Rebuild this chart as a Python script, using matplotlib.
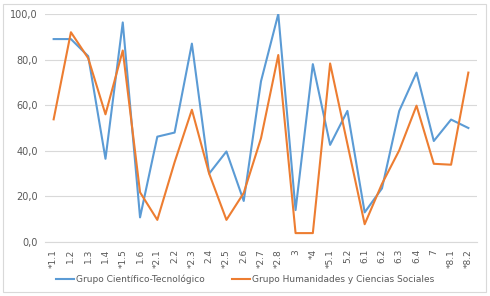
import numpy as np
import matplotlib
matplotlib.use("Agg")
import matplotlib.pyplot as plt
from matplotlib.patches import Rectangle

# Datos
categorias = ["*1.1", "1.2", "1.3", "1.4", "*1.5", "1.6", "*2.1", "2.2", "*2.3", "2.4",
              "*2.5", "2.6", "*2.7", "*2.8", "3", "*4", "*5.1", "5.2", "6.1", "6.2",
              "6.3", "6.4", "7", "*8.1", "*8.2"]
cientifico = [89, 89, 81.5, 36.5, 96.3, 10.8, 46.2, 48, 87, 30,
              39.7, 18, 70.5, 100, 14, 78, 42.6, 57.5, 13, 23.5,
              57.5, 74.3, 44.3, 53.7, 50]
humanidades = [53.8, 92, 80.6, 56, 84, 21.8, 9.7, 35, 58, 30,
               9.7, 21.5, 45.5, 82, 3.9, 3.9, 78.3, 43, 7.8, 25.5,
               40.2, 59.8, 34.3, 33.9, 74.3]

plt.rcParams['font.family'] = ['DejaVu Sans']
fig = plt.figure(figsize=(4.9, 2.96), dpi=100)
ax = fig.add_axes([45/490, 1-242/296, 432/490, 228/296])

x = np.arange(len(categorias))
ax.plot(x, cientifico, color="#5B9BD5", lw=1.5, label="Grupo Científico-Tecnológico")
ax.plot(x, humanidades, color="#ED7D31", lw=1.5, label="Grupo Humanidades y Ciencias Sociales")

ax.set_xlim(-0.5, len(categorias) - 0.5)
ax.set_ylim(0, 100)
ax.set_yticks(np.arange(0, 101, 20))
ax.set_yticklabels([f"{v},0" for v in range(0, 101, 20)], fontsize=7, color="#595959")
ax.set_xticks(x)
ax.set_xticklabels(categorias, rotation=90, fontsize=6.5, color="#595959")
ax.tick_params(length=0, pad=5)
ax.grid(axis="y", color="#D9D9D9", lw=0.8)
ax.set_axisbelow(True)
for s in ["top", "right", "left"]:
    ax.spines[s].set_visible(False)
ax.spines["bottom"].set_color("#D9D9D9")

fig.legend(loc="center", bbox_to_anchor=(0.5, 1-279/296), ncol=2, frameon=False,
           fontsize=6.5, handlelength=2.0, handletextpad=0.2, columnspacing=3,
           labelcolor="#595959")

fig.patches.append(Rectangle((3/490, 4/296), 483/490, 288/296, transform=fig.transFigure,
                             fill=False, edgecolor="#D9D9D9", lw=0.8))

fig.savefig("out.png", dpi=100)
